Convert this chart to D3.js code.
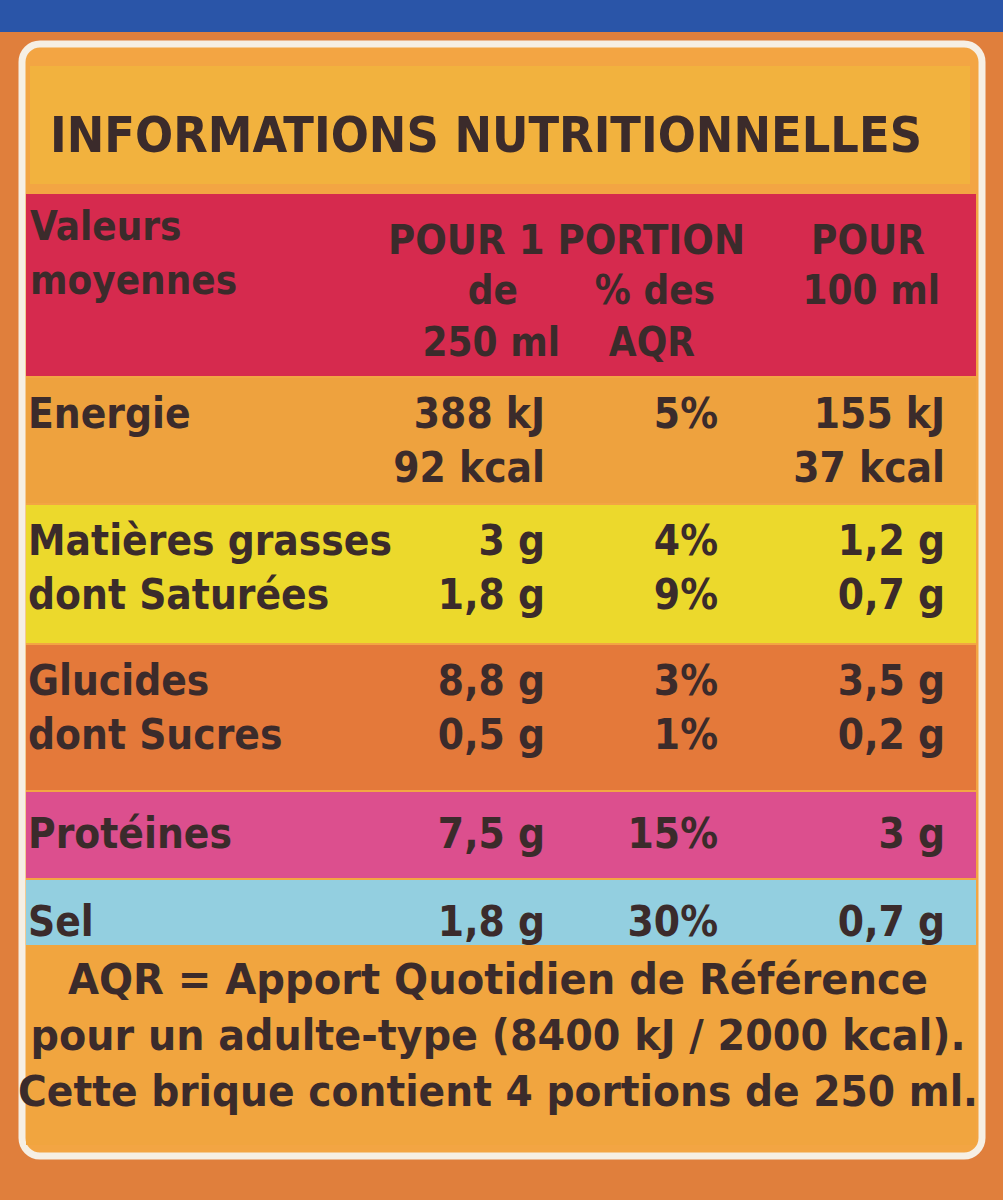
<!doctype html>
<html lang="fr">
<head>
<meta charset="utf-8">
<title>Informations nutritionnelles</title>
<style>
html, body { margin:0; padding:0; background:#d9783a; }
svg text { font-family: "DejaVu Sans Condensed", "DejaVu Sans", sans-serif; font-weight: bold; fill: #3b2b2b; }
</style>
<script src="https://cdn.jsdelivr.net/npm/d3@7"></script>
</head>
<body>
<svg id="chart" width="1003" height="1200"></svg>
<script>
// table content
const rowLabels = [["Energie"], ["Matières grasses", "dont Saturées"], ["Glucides", "dont Sucres"], ["Protéines"], ["Sel"]];
const perPortion = [["388 kJ", "92 kcal"], ["3 g", "1,8 g"], ["8,8 g", "0,5 g"], ["7,5 g"], ["1,8 g"]];
const percentAQR = [["5%"], ["4%", "9%"], ["3%", "1%"], ["15%"], ["30%"]];
const per100 = [["155 kJ", "37 kcal"], ["1,2 g", "0,7 g"], ["3,5 g", "0,2 g"], ["3 g"], ["0,7 g"]];
const bandColors = ["#eea23e", "#ecd92c", "#e4793a", "#dc4f8e", "#93cfe0"];
const footnote = ["AQR = Apport Quotidien de Référence", "pour un adulte-type (8400 kJ / 2000 kcal).", "Cette brique contient 4 portions de 250 ml."];

const svg = d3.select("#chart");

// frame: blue top, orange border, white inner line
svg.append("rect").attr("width", 1003).attr("height", 1200).attr("fill", "#e07f3c");
svg.append("rect").attr("x", 0).attr("y", 0).attr("width", 1003).attr("height", 32).attr("fill", "#2a55a8");
svg.append("rect").attr("x", 22).attr("y", 44).attr("width", 960).attr("height", 1112).attr("rx", 18)
  .attr("fill", "#f3a543").attr("stroke", "#f6efe4").attr("stroke-width", 7);

// title band
svg.append("rect").attr("x", 30).attr("y", 66).attr("width", 940).attr("height", 118).attr("fill", "#f2b23e");
svg.append("text").attr("x", 50).attr("y", 152).attr("font-size", 50).attr("textLength", 872)
  .attr("lengthAdjust", "spacingAndGlyphs").text("INFORMATIONS NUTRITIONNELLES");

// header band
svg.append("rect").attr("x", 26).attr("y", 194).attr("width", 950).attr("height", 182).attr("fill", "#d62a4e");
const head = svg.append("g").attr("font-size", 40);
const ht = (x, y, s, a) => head.append("text").attr("x", x).attr("y", y).attr("text-anchor", a || "start").text(s);
ht(30, 240, "Valeurs"); ht(30, 294, "moyennes");
head.append("text").attr("x", 388).attr("y", 254).attr("textLength", 357)
  .attr("lengthAdjust", "spacingAndGlyphs").text("POUR 1 PORTION");
ht(518, 304, "de", "end"); ht(715, 304, "% des", "end");
ht(560, 356, "250 ml", "end"); ht(695, 356, "AQR", "end");
ht(925, 254, "POUR", "end"); ht(940, 304, "100 ml", "end");

// rows
const bandTops = [378, 505, 645, 792, 880];
const bandBottoms = [503, 643, 790, 878, 945];
const rows = svg.append("g").attr("font-size", 42);
rowLabels.forEach((lab, i) => {
  rows.append("rect").attr("x", 26).attr("y", bandTops[i]).attr("width", 950)
    .attr("height", bandBottoms[i] - bandTops[i]).attr("fill", bandColors[i]);
  const base = bandTops[i] + (lab.length === 1 && i >= 3 ? 56 : 50);
  const put = (arr, x, anchor) => arr.forEach((s, k) =>
    rows.append("text").attr("x", x).attr("y", base + k * 54).attr("text-anchor", anchor).text(s));
  put(lab, 28, "start");
  put(perPortion[i], 545, "end");
  put(percentAQR[i], 718, "end");
  put(per100[i], 945, "end");
});

// footnote
svg.append("rect").attr("x", 26).attr("y", 945).attr("width", 950).attr("height", 200).attr("fill", "#f1a53f");
const footLen = [860, 935, 960];
footnote.forEach((s, k) =>
  svg.append("text").attr("x", 498).attr("y", 994 + k * 56).attr("text-anchor", "middle")
    .attr("font-size", 42).attr("textLength", footLen[k]).attr("lengthAdjust", "spacingAndGlyphs").text(s));
</script>
</body>
</html>
